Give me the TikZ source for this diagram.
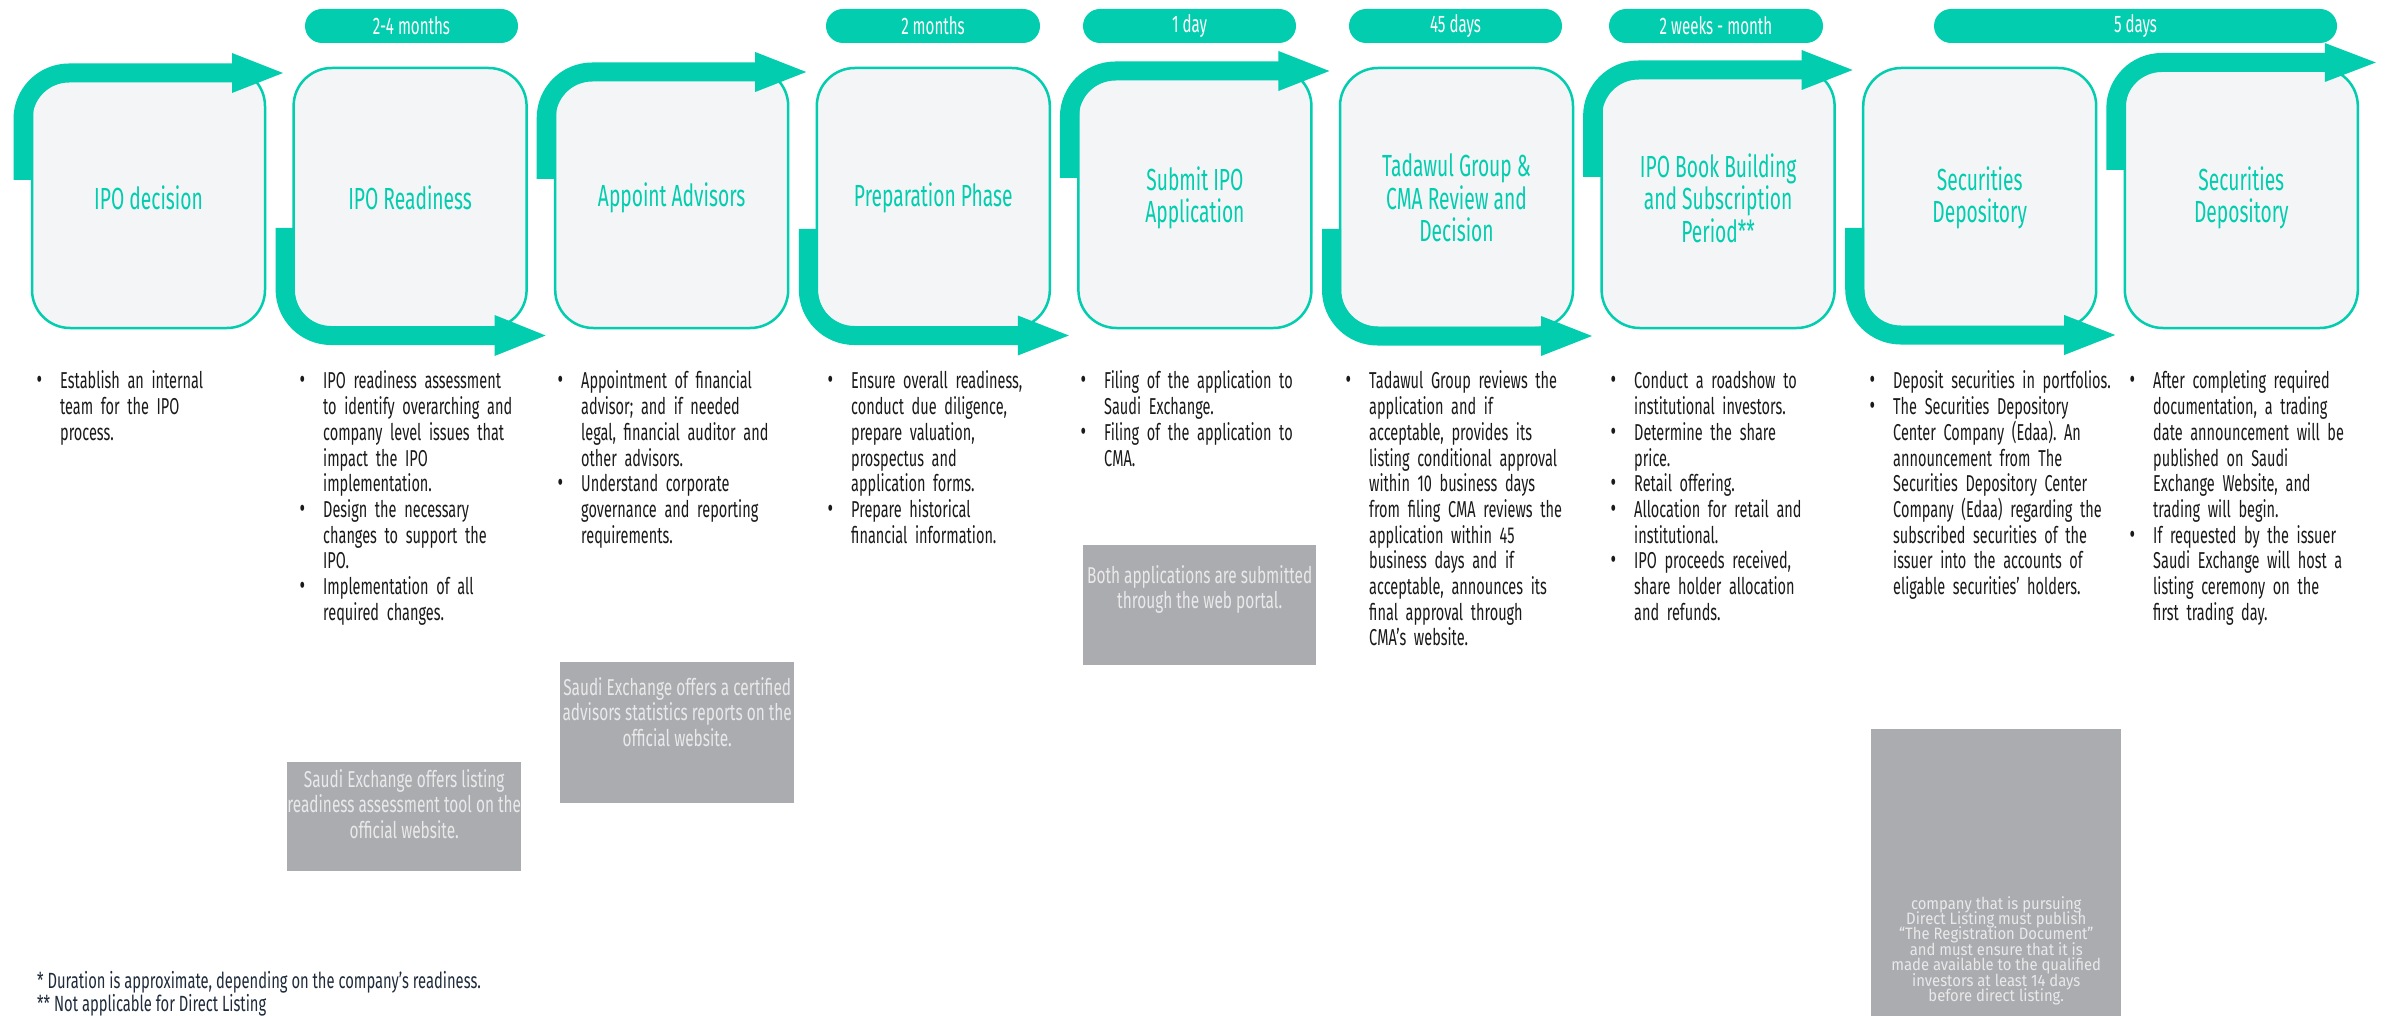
\documentclass[tikz,border=0pt]{standalone}
\usepackage{fontspec}
\setmainfont{Fira Sans}[FakeStretch=0.63]
\newfontfamily\notefont{Fira Sans}[FakeStretch=0.67]
\newfontfamily\widefont{Fira Sans}[FakeStretch=0.9]
\usepackage{enumitem}
\setlist[itemize]{leftmargin=26pt,labelsep=18pt,itemsep=0pt,topsep=0pt,parsep=0pt,partopsep=0pt,label={\fontsize{27}{25}\selectfont\textbullet}}
\setlength{\lineskiplimit}{-30pt}
\definecolor{tadteal}{HTML}{02CDAE}
\definecolor{boxfill}{HTML}{F4F5F7}
\definecolor{notegray}{HTML}{ABACB0}
\definecolor{notetext}{HTML}{E9E9EA}
\definecolor{bodytext}{HTML}{1A1A1A}
\definecolor{foottext}{HTML}{1F2B3B}
\begin{document}
\begin{tikzpicture}[x=1pt,y=-1pt,
  stepbox/.style={draw=tadteal,line width=2.5pt,fill=boxfill,rounded corners=38pt,minimum width=233pt,minimum height=260pt,inner sep=0pt,text=tadteal,align=center,font=\fontsize{30.5}{32.5}\selectfont},
  band/.style={draw=tadteal,line width=19pt,rounded corners=46pt},
  head/.style={fill=tadteal},
  pill/.style={fill=tadteal,rounded corners=17pt,minimum height=34pt,inner sep=0pt,text=white,font=\fontsize{24}{26}\selectfont},
  bullets/.style={anchor=north west,inner sep=0pt,text width=260pt,align=left,text=bodytext,font=\fontsize{23}{25.7}\selectfont},
  note/.style={fill=notegray,anchor=north west,inner sep=0pt},
  notetxt/.style={anchor=north,inner sep=0pt,align=center,text=notetext,font=\notefont\fontsize{23}{25.5}\selectfont},
  foot/.style={anchor=north west,inner sep=0pt,align=left,text=foottext,font=\notefont\fontsize{22}{23.5}\selectfont}]
\useasboundingbox (0,0) rectangle (2392,1016);
\fill[white] (0,0) rectangle (2392,1016);

% duration pills
\node[pill,minimum width=213] (d1) at (411.5,26) {2-4 months};
\node[pill,minimum width=214] (d2) at (933,26) {2 months};
\node[pill,minimum width=213] (d3) at (1189.5,26) {1 day};
\node[pill,minimum width=213] (d4) at (1455.5,26) {45 days};
\node[pill,minimum width=214] (d5) at (1716,26) {2 weeks - month};
\node[pill,minimum width=403] (d6) at (2135.5,26) {5 days};

% step boxes
\node[stepbox] (b1) at (148.5,198) {IPO decision};
\node[stepbox] (b2) at (410.1,198) {IPO Readiness};
\node[stepbox] (b3) at (671.7,198) {Appoint Advisors};
\node[stepbox] (b4) at (933.3,198) {Preparation Phase};
\node[stepbox] (b5) at (1194.9,198) {Submit IPO\\Application};
\node[stepbox] (b6) at (1456.5,198) {Tadawul Group \&\\CMA Review and\\Decision};
\node[stepbox] (b7) at (1718.1,198) {IPO Book Building\\and Subscription\\Period**};
\node[stepbox] (b8) at (1979.7,198) {Securities\\Depository};
\node[stepbox] (b9) at (2241.3,198) {Securities\\Depository};

% top arrows
\draw[band] (23,180) -- (23,73) -- (234,73);
\fill[head] (232,53) -- (283,73) -- (232,93) -- cycle;
\draw[band] (546.2,179) -- (546.2,72) -- (757.2,72);
\fill[head] (755.2,52) -- (806.2,72) -- (755.2,92) -- cycle;
\draw[band] (1069.4,178) -- (1069.4,71) -- (1280.4,71);
\fill[head] (1278.4,51) -- (1329.4,71) -- (1278.4,91) -- cycle;
\draw[band] (1592.6,177) -- (1592.6,70) -- (1803.6,70);
\fill[head] (1801.6,50) -- (1852.6,70) -- (1801.6,90) -- cycle;
\draw[band] (2115.8,170) -- (2115.8,62.5) -- (2326.8,62.5);
\fill[head] (2324.8,43) -- (2375.8,62.5) -- (2324.8,82) -- cycle;

% bottom arrows
\draw[band] (285.1,228) -- (285.1,335.5) -- (496.6,335.5);
\fill[head] (494.6,315) -- (545.6,335.5) -- (494.6,356) -- cycle;
\draw[band] (808.3,229) -- (808.3,335.5) -- (1019.8,335.5);
\fill[head] (1017.8,315.5) -- (1068.8,335.5) -- (1017.8,355.5) -- cycle;
\draw[band] (1331.5,229) -- (1331.5,336) -- (1543,336);
\fill[head] (1541,316) -- (1592,336) -- (1541,356) -- cycle;
\draw[band] (1854.7,228) -- (1854.7,335) -- (2066.2,335);
\fill[head] (2064.2,315) -- (2115.2,335) -- (2064.2,355) -- cycle;

% bullet texts
\node[bullets] (c1) at (34,363) {\begin{itemize}\item Establish an internal\\team for the IPO\\process.\end{itemize}};
\node[bullets] (c2) at (297,363) {\begin{itemize}\item IPO readiness assessment\\to identify overarching and\\company level issues that\\impact the IPO\\implementation.\item Design the necessary\\changes to support the\\IPO.\item Implementation of all\\required changes.\end{itemize}};
\node[bullets] (c3) at (555,363) {\begin{itemize}\item Appointment of financial\\advisor; and if needed\\legal, financial auditor and\\other advisors.\item Understand corporate\\governance and reporting\\requirements.\end{itemize}};
\node[bullets] (c4) at (825,363) {\begin{itemize}\item Ensure overall readiness,\\conduct due diligence,\\prepare valuation,\\prospectus and\\application forms.\item Prepare historical\\financial information.\end{itemize}};
\node[bullets] (c5) at (1078,363) {\begin{itemize}\item Filing of the application to\\Saudi Exchange.\item Filing of the application to\\CMA.\end{itemize}};
\node[bullets] (c6) at (1343,363) {\begin{itemize}\item Tadawul Group reviews the\\application and if\\acceptable, provides its\\listing conditional approval\\within 10 business days\\from filing CMA reviews the\\application within 45\\business days and if\\acceptable, announces its\\final approval through\\CMA’s website.\end{itemize}};
\node[bullets] (c7) at (1608,363) {\begin{itemize}\item Conduct a roadshow to\\institutional investors.\item Determine the share\\price.\item Retail offering.\item Allocation for retail and\\institutional.\item IPO proceeds received,\\share holder allocation\\and refunds.\end{itemize}};
\node[bullets] (c8) at (1867,363) {\begin{itemize}\item Deposit securities in portfolios.\item The Securities Depository\\Center Company (Edaa).\ An\\announcement from The\\Securities Depository Center\\Company (Edaa) regarding the\\subscribed securities of the\\issuer into the accounts of\\eligable securities’ holders.\end{itemize}};
\node[bullets] (c9) at (2127,363) {\begin{itemize}\item After completing required\\documentation, a trading\\date announcement will be\\published on Saudi\\Exchange Website, and\\trading will begin.\item If requested by the issuer\\Saudi Exchange will host a\\listing ceremony on the\\first trading day.\end{itemize}};

% grey notes
\node[note,minimum width=234,minimum height=109] (n1) at (287,762) {};
\node[notetxt] (n1t) at (n1.north) [yshift=-7pt] {Saudi Exchange offers listing\\readiness assessment tool on the\\official website.};
\node[note,minimum width=234,minimum height=141] (n2) at (560,662) {};
\node[notetxt] (n2t) at (n2.north) [yshift=-15pt] {Saudi Exchange offers a certified\\advisors statistics reports on the\\official website.};
\node[note,minimum width=233,minimum height=120] (n3) at (1083,545) {};
\node[notetxt] (n3t) at (n3.north) [yshift=-20pt] {Both applications are submitted\\through the web portal.};
\node[note,minimum width=250,minimum height=300] (n4) at (1871,729) {};
\node[notetxt,font=\widefont\fontsize{16.5}{15.4}\selectfont] (n4t) at (n4.north) [yshift=-167pt] {company that is pursuing\\Direct Listing must publish\\“The Registration Document”\\and must ensure that it is\\made available to the qualified\\investors at least 14 days\\before direct listing.};

% footnotes
\node[foot] (f1) at (37,971) {* Duration is approximate, depending on the company’s readiness.\\** Not applicable for Direct Listing};
\end{tikzpicture}
\end{document}
